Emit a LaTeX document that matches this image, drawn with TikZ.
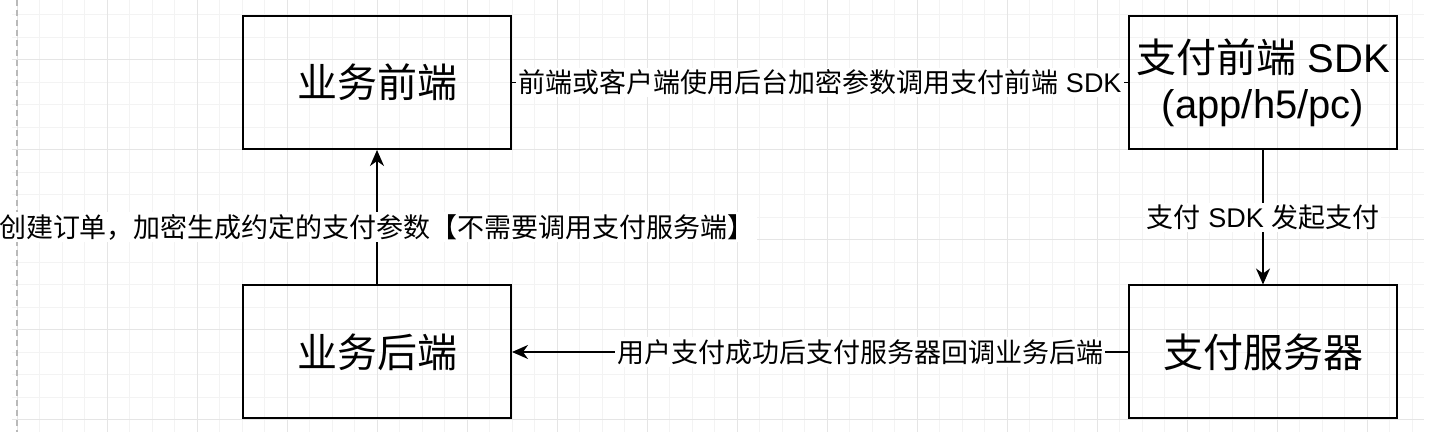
\documentclass[tikz,border=0pt]{standalone}
\usepackage{fontspec}
\setmainfont{Liberation Sans}
\newfontfamily\cjk{Noto Sans CJK SC}
\newcommand{\zh}[1]{{\cjk #1}}
\usetikzlibrary{positioning, arrows.meta}
\definecolor{gridMinor}{RGB}{243,243,243}
\definecolor{gridMajor}{RGB}{229,229,229}
\definecolor{pageEdge}{RGB}{185,185,185}

\begin{document}
\begin{tikzpicture}[x=1pt, y=-1pt,
  box/.style={draw=black, line width=2pt, minimum width=268pt, minimum height=133pt, align=center, font=\fontsize{40}{46}\selectfont},
  arrow/.style={-{Stealth[length=16pt, width=14pt, inset=5pt]}, line width=1.8pt},
  lbl/.style={fill=white, inner sep=2pt, font=\fontsize{27}{30}\selectfont}
]
  \useasboundingbox (0,0) rectangle (1441,443);

  % background grid
  \foreach \k in {0,...,62} \draw[gridMinor, line width=1pt] (17+22.5*\k,0) -- ++(0,432);
  \foreach \k in {0,...,18} \draw[gridMinor, line width=1pt] (12,15+22.5*\k) -- (1424,15+22.5*\k);
  \foreach \k in {0,...,15} \draw[gridMajor, line width=1pt] (17+90*\k,0) -- ++(0,432);
  \foreach \k in {0,...,4} \draw[gridMajor, line width=1pt] (12,60+90*\k) -- (1424,60+90*\k);
  \draw[pageEdge, dash pattern=on 6pt off 4pt, line width=1.2pt] (17,0) -- (17,432);

  \node[box] (bizfront) at (377,82.5) {\zh{业务前端}};
  \node[box, below=134.5pt of bizfront] (bizback) {\zh{业务后端}};
  \node[box, right=616pt of bizfront] (sdk) {\zh{支付前端} SDK\\(app/h5/pc)};
  \node[box, below=134.5pt of sdk] (payserver) {\zh{支付服务器}};

  \draw[arrow] (bizback) -- node[lbl, yshift=-10pt] {\zh{创建订单，加密生成约定的支付参数【不需要调用支付服务端】}} (bizfront);
  \draw[line width=1.8pt] (bizfront) -- node[lbl] {\zh{前端或客户端使用后台加密参数调用支付前端} SDK} (sdk);
  \draw[arrow] (sdk) -- node[lbl] {\zh{支付} SDK \zh{发起支付}} (payserver);
  \draw[arrow] (payserver) -- node[lbl, pos=0.435] {\zh{用户支付成功后支付服务器回调业务后端}} (bizback);
\end{tikzpicture}
\end{document}
